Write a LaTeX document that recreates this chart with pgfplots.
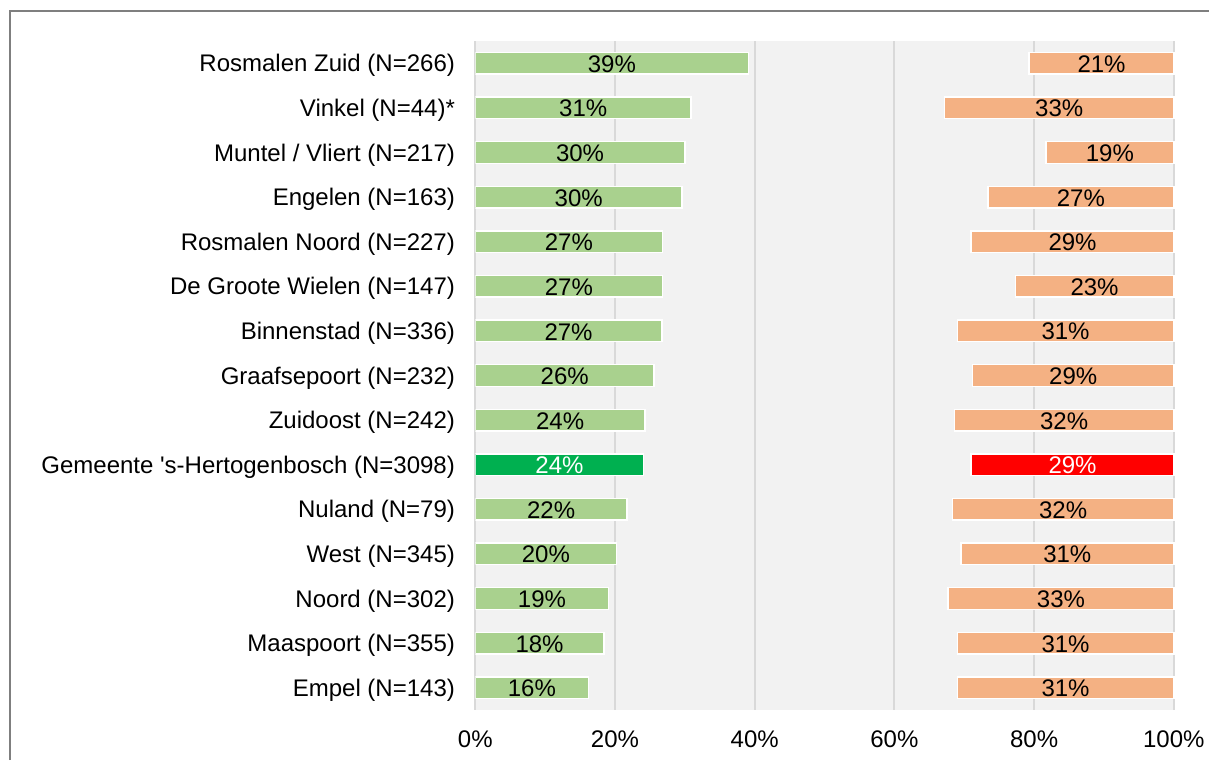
\documentclass[border=0pt]{standalone}
\usepackage{pgfplots}
\pgfplotsset{compat=1.18}
\usepackage{pgfplotstable}
\usepackage{fontspec}
\setmainfont{Liberation Sans}[Ligatures=TeXOff]
\definecolor{lgreen}{HTML}{A9D18E}
\definecolor{dgreen}{HTML}{00B050}
\definecolor{lorange}{HTML}{F4B183}
\definecolor{hred}{HTML}{FF0000}
\definecolor{bgg}{HTML}{F2F2F2}
\definecolor{gridc}{HTML}{D9D9D9}
\definecolor{framec}{HTML}{7F7F7F}

% y: row (0 = top), g: green share, o: orange share, gl/ol: printed labels
\pgfplotstableread{
y g o gl ol
0 39.1 20.7 39 21
1 30.9 32.8 31 33
2 30.0 18.3 30 19
3 29.6 26.6 30 27
4 26.8 29.0 27 29
5 26.8 22.7 27 23
6 26.7 31.0 27 31
7 25.6 28.8 26 29
8 24.3 31.4 24 32
10 21.7 31.7 22 32
11 20.2 30.5 20 31
12 19.1 32.3 19 33
13 18.4 31.0 18 31
14 16.2 31.0 16 31
}\datamain
\pgfplotstableread{
y g o gl ol
9 24.1 29.0 24 29
}\datahl

\begin{document}
\begin{tikzpicture}
\useasboundingbox (0pt,0pt) rectangle (604.5pt,380pt);
\draw[framec, line width=1pt] (4.75pt,0pt) -- (4.75pt,374.5pt) -- (604.5pt,374.5pt);
\pgfplotsset{
  common/.style={
    at={(237.65pt,25pt)}, anchor=south west,
    scale only axis, width=349.25pt, height=334.5pt,
    xmin=0, xmax=100, ymin=-0.5, ymax=14.5, y dir=reverse,
    /pgf/number format/assume math mode=true,
    every node near coord/.append style={font=\fontsize{12}{14}\selectfont, yshift=-0.4pt},
  },
  barg/.style={xbar, bar width=10.8pt, bar shift=0pt, draw=white, line width=0.75pt},
  lab/.style={draw=none, mark=none, nodes near coords={\pgfmathprintnumber{\pgfplotspointmeta}\%}, nodes near coords align=center, point meta=explicit, every node near coord/.append style={text=#1}},
}
\begin{axis}[common,
  axis background/.style={fill=bgg},
  axis line style={draw=none},
  major tick length=0pt,
  xtick={0,20,40,60,80,100},
  xticklabels={0\%,20\%,40\%,60\%,80\%,100\%},
  xmajorgrids, major grid style={gridc, line width=1pt},
  ytick={0,...,14},
  yticklabels={Rosmalen Zuid (N=266),Vinkel (N=44)*,Muntel / Vliert (N=217),Engelen (N=163),Rosmalen Noord (N=227),De Groote Wielen (N=147),Binnenstad (N=336),Graafsepoort (N=232),Zuidoost (N=242),Gemeente 's-Hertogenbosch (N=3098),Nuland (N=79),West (N=345),Noord (N=302),Maaspoort (N=355),Empel (N=143)},
  ticklabel style={font=\fontsize{12}{14}\selectfont},
  yticklabel style={inner sep=0pt, xshift=-10pt, yshift=-1.2pt},
  xticklabel style={inner sep=0pt, yshift=-10pt},
]
\addplot[barg, fill=lgreen] table[x=g, y=y] {\datamain};
\addplot[barg, fill=dgreen] table[x=g, y=y] {\datahl};
\addplot[lab=black] table[x expr=\thisrow{g}/2, y=y, meta=gl] {\datamain};
\addplot[lab=white] table[x expr=\thisrow{g}/2, y=y, meta=gl] {\datahl};
\end{axis}
\begin{axis}[common, x dir=reverse, hide axis, clip=false]
\addplot[barg, fill=lorange] table[x=o, y=y] {\datamain};
\addplot[barg, fill=hred] table[x=o, y=y] {\datahl};
\addplot[lab=black] table[x expr=\thisrow{o}/2, y=y, meta=ol] {\datamain};
\addplot[lab=white] table[x expr=\thisrow{o}/2, y=y, meta=ol] {\datahl};
\end{axis}
\end{tikzpicture}
\end{document}
